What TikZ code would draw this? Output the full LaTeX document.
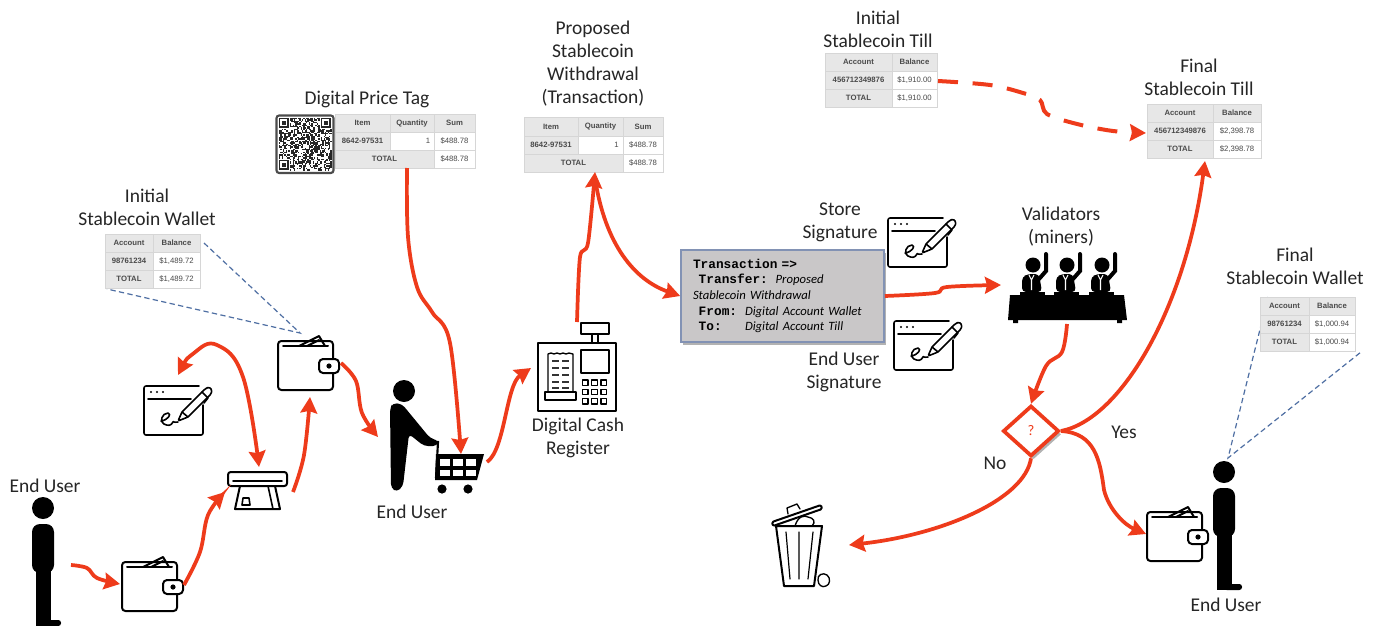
\documentclass[tikz,border=0pt]{standalone}
\usepackage{fontspec}
\setmainfont{Carlito}
\newfontfamily\tblfont{Liberation Sans}
\newfontfamily\txmono{Liberation Mono}
\usetikzlibrary{arrows.meta,shapes.geometric,shadows,calc}
\definecolor{flowred}{HTML}{EE3B1B}
\definecolor{dashblue}{HTML}{4F6FA3}
\definecolor{cellgray}{HTML}{E7E7E7}
\definecolor{celledge}{HTML}{D6D6D6}
\definecolor{celltext}{HTML}{4A4A4A}
\definecolor{labeltext}{HTML}{262626}
\definecolor{txfill}{HTML}{C9C7C8}
\definecolor{txedge}{HTML}{8292B4}
\tikzset{
  flow/.style={draw=flowred,line width=2.8pt,-{Stealth[length=12pt,width=12.5pt,inset=1.5pt]}},
  flowboth/.style={draw=flowred,line width=2.8pt,{Stealth[length=12pt,width=12.5pt,inset=1.5pt]}-{Stealth[length=12pt,width=12.5pt,inset=1.5pt]}},
  flowdash/.style={flow,line width=3pt,dash pattern=on 15pt off 11pt},
  guide/.style={draw=dashblue,line width=0.9pt,dash pattern=on 4pt off 2.5pt},
  lbl/.style={font=\fontsize{14.6}{17.25}\selectfont,text=labeltext,align=center,inner sep=0pt},
  celltxt/.style={font=\tblfont\fontsize{5.8}{7}\selectfont,text=celltext,inner sep=0pt},
  cellbold/.style={celltxt,font=\tblfont\bfseries\fontsize{5.8}{7}\selectfont},
  icon/.style={draw=black,line width=1.5pt,line join=round,line cap=round},
  txbox/.style={draw=txedge,line width=1.2pt,fill=txfill,align=left,inner xsep=9pt,inner ysep=0pt,
    text width=134.25pt,minimum height=69pt,
    font=\fontsize{9.5}{11.7}\selectfont,
    drop shadow={shadow xshift=1.5pt,shadow yshift=-2pt,fill=black,opacity=.3}},
  decbox/.style={shape=diamond,draw=flowred,line width=2.8pt,fill=white,inner sep=0pt,
    minimum width=42pt,minimum height=38pt,text=flowred,font=\fontsize{11}{12}\selectfont,
    drop shadow={shadow xshift=2pt,shadow yshift=-2.5pt,fill=black,opacity=.3}},
  walleticon/.pic={
    \draw[icon,fill=white,rounded corners=2.5pt] (0,0) rectangle (55,49);
    \draw[icon] (21,5) -- (41,-5) -- (47,5);
    \draw[icon] (29,5) -- (41,-1);
    \draw[icon] (5,5) -- (50,5);
    \draw[icon,fill=white,rounded corners=3pt] (41,18) rectangle (61,32);
    \fill (51,25) circle (2.6);
  },
  signicon/.pic={
    \draw[icon,line width=1.2pt,rounded corners=1.5pt] (55,0) -- (0,0) -- (0,49) -- (59,49) -- (59,19);
    \draw[icon,line width=1.2pt] (4,13) -- (47,13);
    \fill (7,6) circle (1.2) (13,6) circle (1.2) (19,6) circle (1.2);
    \draw[icon,line width=1.2pt,fill=white,rounded corners=1pt] (34,35) -- (38,26) -- (61,3) -- (65,1) -- (68,4) -- (67,8) -- (44,31) -- cycle;
    \draw[icon,line width=1.2pt] (38,26) -- (44,31) (58,6) -- (64,12) -- (60,17);
    \draw[icon,line width=1.2pt] (17,35) .. controls (24,34) and (28,28) .. (24,27) .. controls (18,27) and (15,36) .. (20,38) .. controls (24,40) and (27,40) .. (29,36) .. controls (30,34) and (27,37) .. (34,36);
  },
  standing/.pic={
    \fill (0,0) circle (11);
    \fill[rounded corners=6pt] (-11,16) rectangle (11,65);
    \fill (-7,60) rectangle (8,118);
    \fill[rounded corners=2pt] (0,112) rectangle (18,118);
  },
  voter/.pic={
    \fill (0,0) circle (7.5);
    \fill[rounded corners=3pt] (-11,27) -- (-11,12) -- (-5,9) -- (6,9) -- (9,27) -- cycle;
    \draw[line width=3pt,line cap=round] (6,14) -- (13,6) -- (13,-11);
    \draw[white,line width=0.8pt] (-4,10) -- (-1.5,15) -- (1,10) (-1.5,15) -- (-1.5,25);
    \fill (-13,27) rectangle (12,30);
  }
}
\newcounter{cellno}
\newcommand{\tcell}[6]{% x0,y0,x1,y1,fill+style,text
  \stepcounter{cellno}
  \path[fill=#5,draw=celledge,line width=.4pt] (#1,#2) rectangle (#3,#4);
  \node[#6] (cell\thecellno) at ({(#1+#3)/2},{(#2+#4)/2}) }
\newcommand{\acct}[9]{% x0,xm,x1,y0,y1,y2,y3,number,balance
  \tcell{#1}{#4}{#2}{#5}{cellgray}{cellbold}{Account};
  \tcell{#2}{#4}{#3}{#5}{cellgray}{cellbold}{Balance};
  \tcell{#1}{#5}{#2}{#6}{cellgray}{cellbold}{#8};
  \tcell{#2}{#5}{#3}{#6}{white}{celltxt}{#9};
  \tcell{#1}{#6}{#2}{#7}{cellgray}{cellbold}{TOTAL};
  \tcell{#2}{#6}{#3}{#7}{white}{celltxt}{#9};
}
\newcommand{\itemtbl}[7]{% x0,x1,x2,x3,y0,y1,y2 (y3=y2+18)
  \tcell{#1}{#5}{#2}{#6}{cellgray}{cellbold}{Item};
  \tcell{#2}{#5}{#3}{#6}{cellgray}{cellbold}{Quantity};
  \tcell{#3}{#5}{#4}{#6}{cellgray}{cellbold}{Sum};
  \tcell{#1}{#6}{#2}{#7}{cellgray}{cellbold}{8642-97531};
  \tcell{#2}{#6}{#3}{#7}{white}{celltxt,xshift=12pt}{1};
  \tcell{#3}{#6}{#4}{#7}{white}{celltxt}{\$488.78};
  \tcell{#1}{#7}{#3}{#7+18}{cellgray}{cellbold}{TOTAL};
  \tcell{#3}{#7}{#4}{#7+18}{white}{celltxt}{\$488.78};
}
\newcommand{\txm}{\txmono\bfseries\fontsize{9.6}{11.7}\selectfont}
\newcommand{\txi}{\itshape\fontsize{9.5}{11.7}\selectfont}
\begin{document}
\begin{tikzpicture}[x=0.75pt,y=-0.75pt]
\useasboundingbox (0,0) rectangle (1377,625);
\fill[white] (0,0) rectangle (1377,625);

% ---------- connector anchors
\coordinate (user1out) at (71,565);
\coordinate (wal1in) at (120,584);
\coordinate (wal1out) at (184,585);
\coordinate (cardin) at (225,492);
\coordinate (cardout) at (293,492);
\coordinate (wal2in) at (310,397);
\coordinate (cardtop) at (259,467);
\coordinate (sig1top) at (178,375);
\coordinate (wal2out) at (341,363);
\coordinate (shopin) at (378,437);
\coordinate (tagout) at (407,168);
\coordinate (cartin) at (461,454);
\coordinate (shopout) at (487,462);
\coordinate (regin) at (531,368);
\coordinate (regout) at (577,322);
\coordinate (proptbl) at (595,172);
\coordinate (propfork) at (595,178);
\coordinate (valin) at (1001,285);
\coordinate (valout) at (1067,324);
\coordinate (tillout) at (938,81);
\coordinate (tillin) at (1146,133);
\coordinate (ftill) at (1205,161);
\coordinate (wal3in) at (1146,534);
\coordinate (trashin) at (849,545);
\coordinate (tipa) at (300,333);
\coordinate (tblb) at (204,243);
\coordinate (tblc) at (107,289);
\coordinate (user3top) at (1228,458);
\coordinate (tbld) at (1268,297);
\coordinate (tble) at (1361,352);

% ---------- callout guides (behind the tables)
\draw[guide] (tblb) -- (tipa) -- (tblc);
\draw[guide] (tbld) -- (user3top) -- (tble);

% ---------- tables
\acct{105}{153}{200}{234}{252}{270}{288}{98761234}{\$1,489.72}
\acct{825}{892}{937}{53}{71}{89}{107}{456712349876}{\$1,910.00}
\acct{1147}{1213}{1261}{104}{122}{140}{158}{456712349876}{\$2,398.78}
\acct{1260}{1309}{1355}{297}{315}{333}{351}{98761234}{\$1,000.94}
\itemtbl{335}{390}{434}{475}{114}{132}{150}
\itemtbl{524}{578}{623}{663}{117}{136}{154}

% ---------- QR code
\draw[draw=black!70,line width=1.6pt,fill=white,rounded corners=2pt] (276.5,115.5) rectangle (333.5,173);
\pgfmathsetseed{4711}
\foreach \i in {0,...,38}{\foreach \j in {0,...,38}{
  \pgfmathrandominteger{\qrbit}{0}{1}
  \ifnum\qrbit=1
    \fill[black!85] ({279+\i*1.35},{118+\j*1.35}) rectangle ++(1.35,1.35);
  \fi
}}
\foreach \qx/\qy in {279/118,321/118,279/160}{
  \fill[white] (\qx-1,\qy-1) rectangle ++(11.5,11.5);
  \fill[black!85] (\qx,\qy) rectangle ++(9.5,9.5);
  \fill[white] (\qx+1.4,\qy+1.4) rectangle ++(6.7,6.7);
  \fill[black!85] (\qx+2.8,\qy+2.8) rectangle ++(3.9,3.9);
}

% ---------- people
\pic (user1) at (43,508) {standing};
\pic (user3) at (1224,472) {standing};
% shopper
\fill (404,391) circle (11);
\fill[rounded corners=3pt] (393,403) -- (402,404) -- (430,438) -- (439,441) -- (437,446) -- (424,446) -- (409,434) -- (403,486) -- (397,492) -- (391,488) -- (390,408) -- cycle;
\draw[line width=1.6pt] (430,441) -- (438,442) -- (436,478);
\fill (436,454) -- (484,454) -- (477,480) -- (435,480) -- cycle;
\foreach \cx in {440,453,466}{
  \fill[white] (\cx,459) rectangle ++(10,6.5);
  \fill[white] (\cx,469.5) rectangle ++(9.5,6.5);
}
\fill (442,489) circle (4.6) (468,489) circle (4.6);

% ---------- wallets and signatures
\pic (wal1) at (122,562) {walleticon};
\pic (wal2) at (278,341) {walleticon};
\pic (wal3) at (1147,512) {walleticon};
\pic (sig1) at (144,386) {signicon};
\pic (sig2) at (888,218) {signicon};
\pic (sig3) at (894,321) {signicon};

% ---------- card reader
\draw[icon,rounded corners=2pt,line width=1.5pt] (228,472) rectangle (287,486);
\draw[icon,line width=1.5pt] (240,486) -- (235,509) -- (280,509) -- (275,486);
\draw[icon,line width=1.2pt] (268,486) -- (273,509);
\draw[icon,line width=1.2pt] (242,505) -- (243,498) -- (249,498) -- (250,505) -- cycle;
\draw[icon,line width=1.2pt] (233,481) -- (282,481);

% ---------- cash register
\draw[icon] (581,323) rectangle (609,334);
\draw[icon] (592,334) -- (592,343) (598,334) -- (598,343);
\draw[icon] (538,343) rectangle (616,411);
\draw[icon] (581,350) rectangle (609,373);
\foreach \kx in {0,1,2}{\foreach \ky in {0,1,2}{
  \draw[icon,line width=1pt] ({582.5+\kx*9.2},{380+\ky*9.2}) rectangle ++(5.5,5.5);
}}
\draw[icon,line width=1pt] (548,392) -- (548,354) -- (551,353) -- (554,354) -- (557,353) -- (560,354) -- (563,353) -- (566,354) -- (569,353) -- (573,354) -- (573,392);
\draw[icon,line width=1pt] (545,392) rectangle (576,400);
\foreach \ry in {361,368,375,382,388}{
  \draw[line width=1pt,black!80] (552,\ry) -- (559,\ry) (562,\ry) -- (569,\ry);
}

% ---------- validators
\pic (val1) at (1033,265) {voter};
\pic (val2) at (1067,265) {voter};
\pic (val3) at (1102,265) {voter};
\fill (1010,295) -- (1124,295) -- (1127,320) -- (1008,320) -- cycle;
\fill (1013,320) rectangle (1018,323) (1117,320) rectangle (1122,323);

% ---------- trash
\draw[icon] (776,526) -- (822,526) -- (814,586) -- (784,586) -- cycle;
\draw[icon,line width=.9pt] (786,532) -- (790,579) (799,532) -- (799,579) (813,532) -- (808,579);
\draw[icon,fill=white,rounded corners=1pt] (772,522) -- (821,505) -- (822,509) -- (773,526) -- cycle;
\draw[icon,line width=1pt] (788,514) -- (787,508) -- (797,504) -- (800,509);
\draw[icon,line width=1pt] (795,526) .. controls (798,516) and (804,515) .. (808,517) .. controls (814,518) and (816,522) .. (812,526);
\draw[icon,line width=1pt] (818,580) .. controls (817,575) and (823,572) .. (827,575) .. controls (831,578) and (830,585) .. (826,586) .. controls (822,588) and (818,585) .. (818,580);

% ---------- transaction box and decision
\node[txbox] (tx) at (782.5,296) {%
  {\txm Transaction =>}\\
  \makebox[62pt][l]{\hspace*{4.3pt}\txm Transfer:}{\txi Proposed}\\
  {\txi Stablecoin Withdrawal}\\
  \makebox[39pt][l]{\hspace*{4.3pt}\txm From:}{\txi Digital Account Wallet}\\
  \makebox[39pt][l]{\hspace*{4.3pt}\txm To:}{\txi Digital Account Till}};
\node[decbox] (dec) at (1031,431) {?};

% ---------- connectors
\draw[flow] plot[smooth,tension=.6] coordinates {(user1out) (87,568) (97,578) (wal1in)};
\draw[flow] plot[smooth,tension=.6] coordinates {(wal1out) (200,552) (208,515) (cardin)};
\draw[flow] plot[smooth,tension=.6] coordinates {(cardout) (304,455) (wal2in)};
\draw[flowboth] plot[smooth,tension=.7] coordinates {(sig1top) (194,353) (217,345) (243,377) (cardtop)};
\draw[flow] plot[smooth,tension=.6] coordinates {(wal2out) (356,381) (362,413) (shopin)};
\draw[flow] plot[smooth,tension=.6] coordinates {(tagout) (408,237) (417,287) (432,312) (450,343) (cartin)};
\draw[flow] (shopout) .. controls (505,450) and (506,385) .. (regin);
\draw[flow] plot[smooth,tension=.5] coordinates {(regout) (580,257) (588,243) (proptbl)};
\draw[flow] (propfork) .. controls (605,245) and (635,280) .. (tx.west);
\draw[flow] plot[smooth,tension=.6] coordinates {(tx.east) (935,293) (947,287) (valin)};
\draw[flow] plot[smooth,tension=.6] coordinates {(valout) (1062,352) (1046,366) (dec.north)};
\draw[flow] (dec.east) .. controls (1120,420) and (1185,310) .. (ftill);
\draw[flow] (dec.east) .. controls (1095,433) and (1100,460) .. (1104,490) .. controls (1109,510) and (1125,525) .. (wal3in);
\draw[flow] (dec.south) .. controls (1025,500) and (940,535) .. (trashin);
\draw[flowdash] plot[smooth,tension=.55] coordinates {(tillout) (990,85) (1023,93) (1040,100) (1047,114) (1077,124) (1113,131) (tillin)};

% ---------- labels
\node[lbl] (lab1) at (45,486) {End User};
\node[lbl] (lab2) at (147,207) {Initial\\Stablecoin Wallet};
\node[lbl] (lab3) at (412,512) {End User};
\node[lbl] (lab4) at (367,99) {Digital Price Tag};
\node[lbl] (lab5) at (593,63.5) {Proposed\\Stablecoin\\Withdrawal\\(Transaction)};
\node[lbl] (lab6) at (878,29.5) {Initial\\Stablecoin Till};
\node[lbl] (lab7) at (1199,77) {Final\\Stablecoin Till};
\node[lbl] (lab8) at (840,222.5) {Store\\Signature};
\node[lbl] (lab9) at (844,371.5) {End User\\Signature};
\node[lbl] (lab10) at (1061,226.5) {Validators\\(miners)};
\node[lbl] (lab11) at (1295,266.5) {Final\\Stablecoin Wallet};
\node[lbl] (lab12) at (578,437.5) {Digital Cash\\Register};
\node[lbl] (lab13) at (1124,432) {Yes};
\node[lbl] (lab14) at (995,463) {No};
\node[lbl] (lab15) at (1226,605) {End User};
\end{tikzpicture}
\end{document}
